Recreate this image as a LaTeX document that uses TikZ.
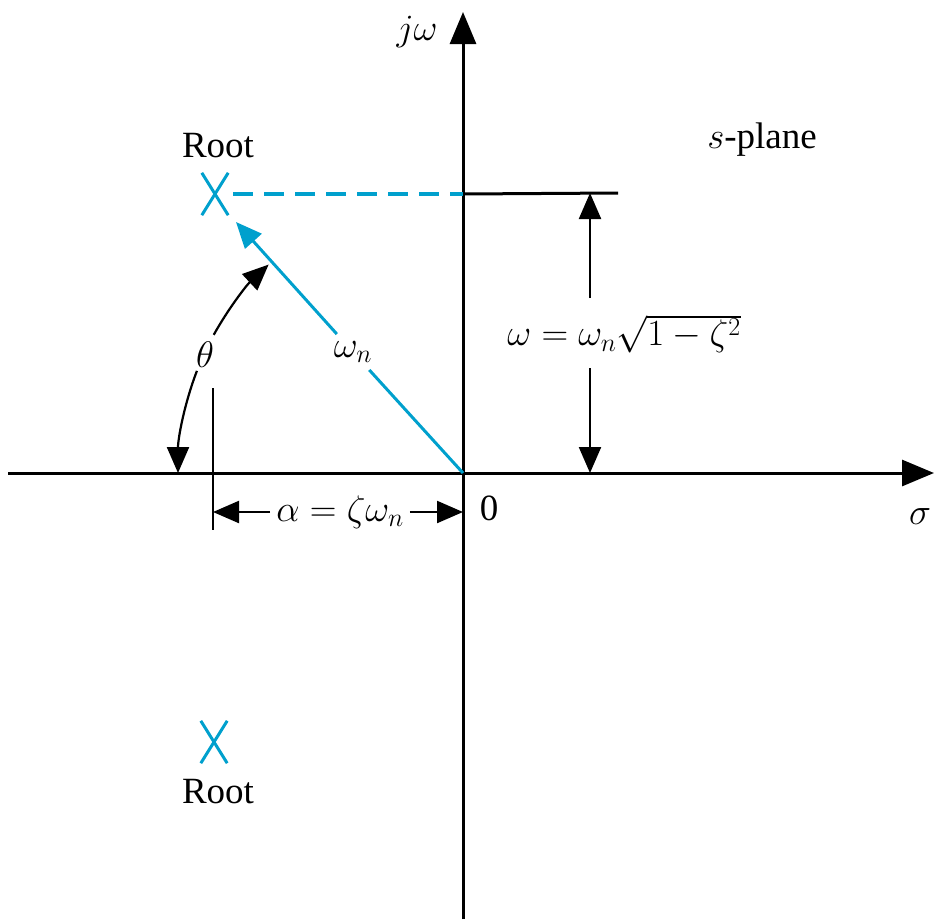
\RequirePackage{fix-cm}
\documentclass[tikz,border=0pt]{standalone}
\usepackage{fontspec}
\setmainfont{Liberation Serif}
\usetikzlibrary{arrows.meta,calc}
\definecolor{cyanline}{RGB}{0,160,205}
\begin{document}
\begin{tikzpicture}[x=1pt,y=-1pt,
  axis/.style={line width=3pt,-{Triangle[length=32pt,width=26pt]}},
  dim/.style={line width=2.2pt,-{Triangle[length=26pt,width=22pt]}},
  lbl/.style={font=\fontsize{37}{40}\selectfont, inner sep=0pt},
  rootbox/.style={minimum width=26pt,minimum height=42pt,inner sep=0pt},
  rootx/.style={cyanline,line width=3pt}]
\path[use as bounding box] (0,0) rectangle (934,919);
% axes
\coordinate (O) at (463,473);
\coordinate (ybot) at (463,919);
\coordinate (ytop) at (463,12);
\coordinate (xl) at (8,473);
\coordinate (xr) at (934,473);
\draw[axis] (ybot) -- (ytop);
\draw[axis] (xl) -- (xr);
% roots
\node[rootbox] (r1) at (215,194) {};
\node[rootbox] (r2) at (214,742) {};
\draw[rootx] (r1.north west) -- (r1.south east) (r1.north east) -- (r1.south west);
\draw[rootx] (r2.north west) -- (r2.south east) (r2.north east) -- (r2.south west);
\node[lbl] (rl1) at (218,146) {Root};
\node[lbl] (rl2) at (218,792) {Root};
% dashed and horizontal reference
\coordinate (hEnd) at (618,193);
\draw[cyanline,line width=3.5pt,dash pattern=on 20pt off 11pt] ($(r1.east)+(5,0)$) -- (r1 -| O);
\draw[line width=3pt] (r1 -| O) -- (hEnd);
% omega dimension
\coordinate (dtop) at (590,193);
\coordinate (dbot) at (590,473);
\coordinate (dgapT) at (590,298);
\coordinate (dgapB) at (590,368);
\draw[dim] (dgapT) -- (dtop);
\draw[dim] (dgapB) -- (dbot);
\node[lbl] (wlab) at (624,334) {$\omega = \omega_n\sqrt{1-\zeta^2}$};
% omega_n vector
\coordinate (tip) at (236,222);
\node[lbl,inner sep=7pt] (wn) at (353,352) {$\omega_n$};
\draw[cyanline,line width=3pt] (O) -- (wn);
\draw[cyanline,line width=3pt,-{Triangle[length=26pt,width=22pt]}] (wn) -- (tip);
% theta arc
\draw[dim] (O) ++(-151:285) arc[start angle=-151,end angle=-133,radius=285];
\draw[dim] (O) ++(-159:285) arc[start angle=-159,end angle=-180,radius=285];
\node[lbl] (th) at (205,355) {$\theta$};
% alpha dimension
\coordinate (tk1) at (213,388);
\coordinate (tk2) at (213,530);
\draw[line width=2.2pt] (tk1) -- (tk2);
\node[lbl,inner sep=6pt] (alab) at (340,512) {$\alpha = \zeta\omega_n$};
\draw[dim] (alab) -- (tk2 |- alab);
\draw[dim] (alab) -- (O |- alab);
% labels
\node[lbl] (jw) at (417,32) {$j\omega$};
\node[lbl] (sp) at (762,140) {$s$-plane};
\node[lbl] (zero) at (489,508) {0};
\node[lbl] (sig) at (920,517) {$\sigma$};
\end{tikzpicture}
\end{document}
